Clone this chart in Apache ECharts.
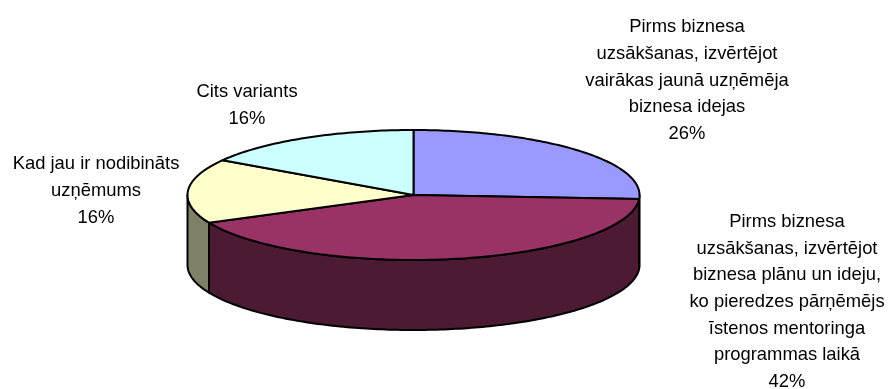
<!DOCTYPE html>
<html>
<head>
<meta charset="utf-8">
<script src="https://cdn.jsdelivr.net/npm/echarts@6/dist/echarts.min.js"></script>
<style>
  html, body { margin: 0; padding: 0; background: #fff; }
  #chart { width: 893px; height: 389px; }
</style>
</head>
<body>
<div id="chart"></div>
<script>
// Answer categories and their shares (%)
const categories = [
  'Pirms biznesa\nuzsākšanas, izvērtējot\nvairākas jaunā uzņēmēja\nbiznesa idejas',
  'Pirms biznesa\nuzsākšanas, izvērtējot\nbiznesa plānu un ideju,\nko pieredzes pārņēmējs\nīstenos mentoringa\nprogrammas laikā',
  'Kad jau ir nodibināts\nuzņēmums',
  'Cits variants'
];
const shares = [26, 42, 16, 16];

// Colours of the top faces and of the darker side walls
const topColors = ['#9999FF', '#993366', '#FFFFCC', '#CCFFFF'];
const sideColors = ['#4D4D80', '#4D1A33', '#808066', '#668080'];

// Layout of the tilted pie and its labels
const layout = {
  cx: 413.5, cy: 195, rx: 226, ry: 65, depth: 70,
  labelCenters: [[687, 80.5], [787, 302], [96, 191], [247, 105.5]],
  font: { size: 18.4, lineHeight: 26.7, family: '"Liberation Sans", Arial, sans-serif' }
};

const total = shares.reduce((a, b) => a + b, 0);
const starts = [];
let acc = 0;
shares.forEach(v => { starts.push(acc); acc += v; });

// Points along the ellipse rim from angle a to b (screen angles, clockwise), dropped by dz
function rim(a, b, dz) {
  const pts = [];
  const n = Math.max(2, Math.ceil(Math.abs(b - a) / (Math.PI / 180)));
  for (let k = 0; k <= n; k++) {
    const t = a + (b - a) * k / n;
    pts.push([layout.cx + layout.rx * Math.cos(t), layout.cy + layout.ry * Math.sin(t) + dz]);
  }
  return pts;
}

function renderItem(params, api) {
  const i = params.dataIndex;
  const v = api.value(0);
  const a0 = -Math.PI / 2 + starts[i] / total * 2 * Math.PI;
  const a1 = a0 + v / total * 2 * Math.PI;
  const edge = { stroke: '#000', lineWidth: 2, lineJoin: 'round' };
  const children = [];

  // Visible front wall of the slice
  const s0 = Math.max(a0, 0), s1 = Math.min(a1, Math.PI);
  if (s1 > s0) {
    children.push({
      type: 'polygon', z2: 1,
      shape: { points: rim(s0, s1, 0).concat(rim(s1, s0, layout.depth)) },
      style: Object.assign({ fill: sideColors[i] }, edge)
    });
  }

  // Top face
  children.push({
    type: 'polygon', z2: 2,
    shape: { points: [[layout.cx, layout.cy]].concat(rim(a0, a1, 0)) },
    style: Object.assign({ fill: topColors[i] }, edge)
  });

  // Category label with percentage
  const lc = layout.labelCenters[i];
  children.push({
    type: 'text', z2: 3,
    x: lc[0], y: lc[1],
    style: {
      text: categories[i] + '\n' + v + '%',
      fill: '#000',
      fontSize: layout.font.size,
      fontFamily: layout.font.family,
      lineHeight: layout.font.lineHeight,
      align: 'center',
      verticalAlign: 'middle'
    }
  });

  return { type: 'group', children };
}

const chart = echarts.init(document.getElementById('chart'), null, { renderer: 'canvas' });
chart.setOption({
  animation: false,
  backgroundColor: '#fff',
  series: [{
    type: 'custom',
    coordinateSystem: 'none',
    renderItem: renderItem,
    data: shares.map((v, i) => ({ value: v, name: categories[i] }))
  }]
});
</script>
</body>
</html>
